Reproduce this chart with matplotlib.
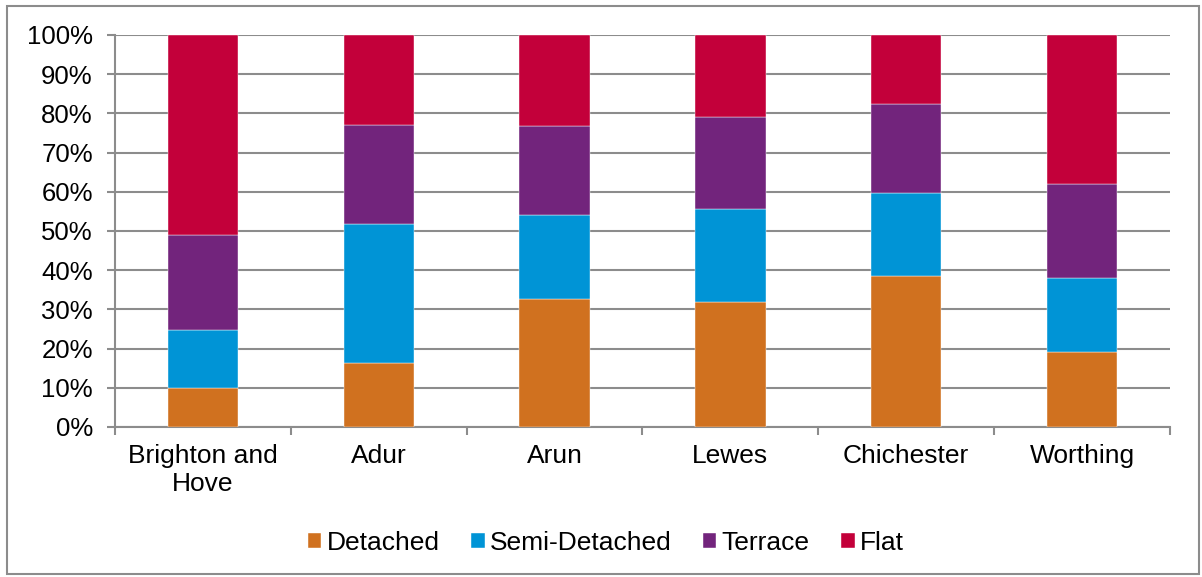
import matplotlib.pyplot as plt
import numpy as np
from matplotlib.patches import Rectangle
from matplotlib.ticker import FixedLocator, PercentFormatter

plt.rcParams['font.family'] = ['Liberation Sans', 'DejaVu Sans']

# share of dwellings by type (%)
areas = ['Brighton and\nHove', 'Adur', 'Arun', 'Lewes', 'Chichester', 'Worthing']
detached = [10.0, 16.4, 32.6, 31.8, 38.6, 19.2]
semi_detached = [14.7, 35.4, 21.4, 23.7, 21.1, 18.7]
terrace = [24.3, 25.3, 22.9, 23.5, 22.8, 24.0]
flat = [51.0, 22.9, 23.1, 21.0, 17.5, 38.1]

series = [('Detached', detached, '#D0711F'),
          ('Semi-Detached', semi_detached, '#0094D6'),
          ('Terrace', terrace, '#72247C'),
          ('Flat', flat, '#C3003A')]

fig = plt.figure(figsize=(12.02, 5.77), dpi=100)
ax = fig.add_axes([115 / 1202, 1 - 427 / 577, (1170 - 115) / 1202, (427 - 35) / 577])

x = np.arange(len(areas))
bottom = np.zeros(len(areas))
for name, vals, col in series:
    ax.bar(x, vals, width=0.4, bottom=bottom, color=col, label=name,
           edgecolor='white', linewidth=0.3, zorder=3)
    bottom += np.array(vals)

ax.set_xlim(-0.5, len(areas) - 0.5)
ax.set_ylim(0, 100)
ax.set_yticks(np.arange(0, 101, 10))
ax.yaxis.set_major_formatter(PercentFormatter(decimals=0))
ax.grid(axis='y', color='#8C8C8C', linewidth=1.5, zorder=0)

ax.set_xticks(x)
ax.set_xticklabels(areas, linespacing=1.25)
ax.xaxis.set_minor_locator(FixedLocator(np.arange(-0.5, len(areas), 1)))
ax.tick_params(axis='x', which='major', length=0, pad=12, labelsize=19)
ax.tick_params(axis='x', which='minor', length=6, width=1.5, color='#8C8C8C', direction='out')
ax.tick_params(axis='y', length=6, width=1.5, color='#8C8C8C', labelsize=18.5, pad=10)

for s in ['top', 'right']:
    ax.spines[s].set_visible(False)
for s in ['left', 'bottom']:
    ax.spines[s].set_color('#8C8C8C')
    ax.spines[s].set_linewidth(1.5)

leg = fig.legend(loc='center', bbox_to_anchor=(606 / 1202, 1 - 543 / 577), ncol=4, frameon=False,
                 fontsize=19, handlelength=0.5, handleheight=0.5, handletextpad=0.2,
                 columnspacing=1.2)

fig.patches.append(Rectangle((7 / 1202, 3 / 577), 1192 / 1202, 568 / 577, transform=fig.transFigure,
                             fill=False, edgecolor='#8C8C8C', linewidth=1.5))

fig.savefig('out.png', dpi=100)
